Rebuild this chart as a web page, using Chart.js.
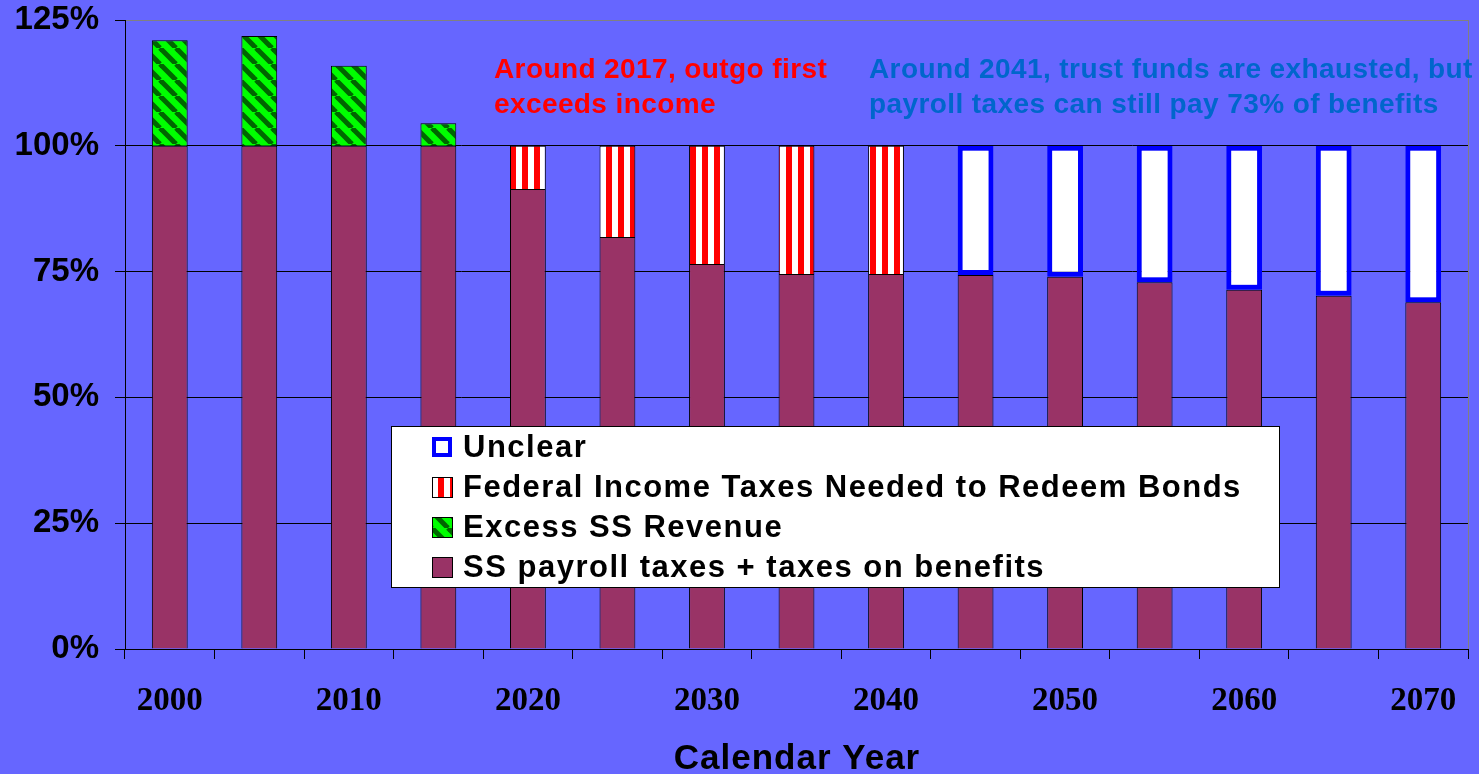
<!DOCTYPE html>
<html>
<head>
<meta charset="utf-8">
<script src="https://cdn.jsdelivr.net/npm/chart.js@4.4.0/dist/chart.umd.min.js"></script>
<style>
  html, body { margin: 0; padding: 0; background: #6666FF; }
  #wrap { width: 1479px; height: 774px; }
</style>
</head>
<body>
<div id="wrap"><canvas id="chart" width="1479" height="774"></canvas></div>
<script>
// data
const years = ["2000","2005","2010","2015","2020","2025","2030","2035","2040","2045","2050","2055","2060","2065","2070"];
const payrollTaxes = [100, 100, 100, 100, 91.4, 81.9, 76.5, 74.5, 74.5, 74.3, 74.0, 72.9, 71.4, 70.2, 68.9];
const excessRevenue = [21.0, 21.8, 15.9, 4.5, null, null, null, null, null, null, null, null, null, null, null];
const incomeTaxes = [null, null, null, null, 8.6, 18.1, 23.5, 25.5, 25.5, null, null, null, null, null, null];
const unclear = [null, null, null, null, null, null, null, null, null, 25.7, 26.0, 27.1, 28.6, 29.8, 31.1];
const yTicks = [0, 25, 50, 75, 100, 125];

const BG = "#6666FF";

function makePattern(w, h, draw) {
  const c = document.createElement("canvas");
  c.width = w; c.height = h;
  const g = c.getContext("2d");
  draw(g);
  return g.createPattern(c, "repeat");
}

// green with dark diagonal stripes
const greenPattern = makePattern(16, 16, g => {
  g.fillStyle = "#00FF00";
  g.fillRect(0, 0, 16, 16);
  g.strokeStyle = "#006600";
  g.lineWidth = 5;
  [-16, 0, 16].forEach(k => {
    g.beginPath();
    g.moveTo(k, 0);
    g.lineTo(k + 16, 16);
    g.stroke();
  });
});

// red/white vertical stripes
const redPattern = makePattern(12, 4, g => {
  g.fillStyle = "#FFFFFF";
  g.fillRect(0, 0, 6, 4);
  g.fillStyle = "#FF0000";
  g.fillRect(6, 0, 6, 4);
});

const boldSans = "'Liberation Sans', Arial, sans-serif";

// background, frame, notes, axis title, legend
const decor = {
  id: "decor",
  beforeDraw(chart) {
    const ctx = chart.ctx;
    ctx.save();
    ctx.fillStyle = BG;
    ctx.fillRect(0, 0, chart.width, chart.height);
    ctx.restore();
  },
  afterDatasetsDraw(chart) {
    const ctx = chart.ctx;
    const a = chart.chartArea;
    ctx.save();
    // gray right frame line
    ctx.strokeStyle = "#808080";
    ctx.lineWidth = 1;
    ctx.beginPath();
    ctx.moveTo(a.right + 0.5, a.top);
    ctx.lineTo(a.right + 0.5, a.bottom);
    ctx.stroke();

    // notes
    ctx.font = "bold 28px " + boldSans;
    ctx.letterSpacing = "0.4px";
    ctx.textBaseline = "middle";
    ctx.textAlign = "left";
    ctx.fillStyle = "#FF0000";
    ctx.fillText("Around 2017, outgo first", 494, 70);
    ctx.fillText("exceeds income", 494, 105);
    ctx.fillStyle = "#0066CC";
    ctx.fillText("Around 2041, trust funds are exhausted, but", 869, 70);
    ctx.fillText("payroll taxes can still pay 73% of benefits", 869, 105);

    // axis title
    ctx.fillStyle = "#000";
    ctx.textAlign = "center";
    ctx.letterSpacing = "1px";
    ctx.font = "bold 35px " + boldSans;
    ctx.fillText("Calendar Year", 797, 759);

    // legend box
    const lx = 391, ly = 426, lw = 888, lh = 161;
    ctx.fillStyle = "#FFFFFF";
    ctx.fillRect(lx, ly, lw, lh);
    ctx.strokeStyle = "#000";
    ctx.lineWidth = 1;
    ctx.strokeRect(lx + 0.5, ly + 0.5, lw, lh);

    const items = chart.data.datasets.slice().reverse();
    ctx.textAlign = "left";
    ctx.font = "bold 31px " + boldSans;
    ctx.letterSpacing = "1.5px";
    items.forEach((ds, i) => {
      const cy = 447 + i * 40;
      const sx = 432, sy = cy - 10, s = 20;
      ctx.fillStyle = ds.backgroundColor;
      ctx.fillRect(sx, sy, s, s);
      if (ds.label === "Unclear") {
        ctx.strokeStyle = "#0000FF";
        ctx.lineWidth = 4;
        ctx.strokeRect(sx + 2, sy + 2, s - 4, s - 4);
      } else {
        ctx.strokeStyle = "#000";
        ctx.lineWidth = 1;
        ctx.strokeRect(sx + 0.5, sy + 0.5, s, s);
      }
      ctx.fillStyle = "#000";
      ctx.fillText(ds.label, 463, cy + 1);
    });
    ctx.restore();
  }
};

new Chart(document.getElementById("chart"), {
  type: "bar",
  data: {
    labels: years,
    datasets: [
      {
        label: "SS payroll taxes + taxes on benefits",
        data: payrollTaxes,
        backgroundColor: "#993366",
        borderColor: "#000",
        borderWidth: 1
      },
      {
        label: "Excess SS Revenue",
        data: excessRevenue,
        backgroundColor: greenPattern,
        borderColor: "#000",
        borderWidth: 1
      },
      {
        label: "Federal Income Taxes Needed to Redeem Bonds",
        data: incomeTaxes,
        backgroundColor: redPattern,
        borderColor: "#000",
        borderWidth: 1
      },
      {
        label: "Unclear",
        data: unclear,
        backgroundColor: "#FFFFFF",
        borderColor: "#0000FF",
        borderWidth: 5,
        borderSkipped: false
      }
    ]
  },
  options: {
    responsive: false,
    animation: false,
    layout: { padding: { left: 0, right: 11, top: 20, bottom: 0 } },
    plugins: {
      legend: { display: false },
      tooltip: { enabled: false }
    },
    datasets: {
      bar: { barPercentage: 0.8, categoryPercentage: 0.5 }
    },
    scales: {
      x: {
        stacked: true,
        offset: true,
        grid: {
          offset: true,
          drawOnChartArea: false,
          drawTicks: true,
          tickLength: 10,
          color: "#000"
        },
        border: { color: "#000", width: 1 },
        ticks: {
          autoSkip: false,
          maxRotation: 0,
          padding: 23,
          color: "#000",
          font: { family: "'Liberation Serif', 'Times New Roman', serif", size: 33, weight: "bold" },
          callback: function (v, i) { return i % 2 === 0 ? years[i] : ""; }
        },
        afterFit(scale) {
          scale.height = 125;
          scale.paddingLeft = 0;
          scale.paddingRight = 0;
        }
      },
      y: {
        stacked: true,
        min: 0,
        max: 125,
        afterBuildTicks(scale) { scale.ticks = yTicks.map(v => ({ value: v })); },
        grid: {
          color: ctx => (ctx.tick && ctx.tick.value === 125 ? "#808080" : "#000"),
          tickColor: "#000",
          tickLength: 10,
          lineWidth: 1
        },
        border: { color: "#000", width: 1 },
        ticks: {
          padding: 16,
          color: "#000",
          font: { family: boldSans, size: 33, weight: "bold" },
          callback: v => v + "%"
        },
        afterFit(scale) {
          scale.width = 125;
          scale.paddingTop = 0;
          scale.paddingBottom = 0;
        }
      }
    }
  },
  plugins: [decor]
});
</script>
</body>
</html>
